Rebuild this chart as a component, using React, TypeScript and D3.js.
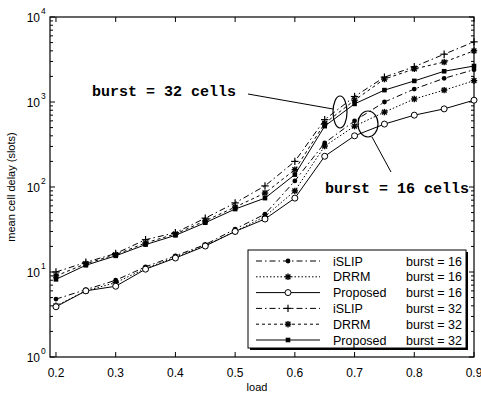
import React from "react";
import * as d3 from "d3";

const loads = [0.2, 0.25, 0.3, 0.35, 0.4, 0.45, 0.5, 0.55, 0.6, 0.65, 0.7, 0.75, 0.8, 0.85, 0.9];
const islip16 = [4.8, 6.2, 8, 11.5, 15.5, 21, 32, 48, 118, 330, 600, 1000, 1420, 1900, 2400];
const drrm16 = [4.0, 6.0, 7.5, 11, 15, 20.5, 30, 45, 90, 303, 520, 760, 1085, 1380, 1780];
const proposed16 = [3.9, 6.0, 6.8, 10.8, 14.6, 20.2, 30, 42, 74, 230, 400, 550, 700, 830, 1050];
const islip32 = [10, 13, 16.5, 24, 29, 43, 65, 103, 200, 620, 1160, 1960, 2600, 3650, 5100];
const drrm32 = [9, 12.5, 16, 22, 28, 40, 58, 85, 160, 560, 1050, 1860, 2450, 2950, 4000];
const proposed32 = [8.2, 12, 15.5, 21, 27, 38, 55, 74, 140, 520, 950, 1380, 1770, 2300, 2650];

const xTicks = [0.2, 0.3, 0.4, 0.5, 0.6, 0.7, 0.8, 0.9];
const xTickLabels = ["0.2", "0.3", "0.4", "0.5", "0.6", "0.7", "0.8", "0.9"];
const yExponents = [0, 1, 2, 3, 4];

const seriesNames = ["iSLIP", "DRRM", "Proposed", "iSLIP", "DRRM", "Proposed"];
const seriesBursts = ["burst = 16", "burst = 16", "burst = 16", "burst = 32", "burst = 32", "burst = 32"];
const seriesValues = [islip16, drrm16, proposed16, islip32, drrm32, proposed32];
const seriesDash = ["6,3,1.5,3", "1.5,2", "", "6,3,1.5,3", "3,3", ""];
const seriesMarker = ["dot", "asterisk", "circle", "plus", "asterisk", "square"];

const annotation32 = "burst = 32 cells";
const annotation16 = "burst = 16 cells";

const L = 50, R = 474, T = 17, B = 357;

function Marker({ kind, x, y }: { kind: string; x: number; y: number }) {
  const s = 3.2;
  if (kind === "dot") return <circle cx={x} cy={y} r={2.4} fill="#000" />;
  if (kind === "circle") return <circle cx={x} cy={y} r={3} fill="#fff" stroke="#000" strokeWidth={1} />;
  if (kind === "square") return <rect x={x - 2.3} y={y - 2.3} width={4.6} height={4.6} fill="#000" />;
  if (kind === "plus")
    return (
      <g stroke="#000" strokeWidth={1.2}>
        <line x1={x - s - 0.5} y1={y} x2={x + s + 0.5} y2={y} />
        <line x1={x} y1={y - s - 0.5} x2={x} y2={y + s + 0.5} />
      </g>
    );
  const d = s * 0.75;
  return (
    <g stroke="#000" strokeWidth={1.4}>
      <line x1={x - s} y1={y} x2={x + s} y2={y} />
      <line x1={x} y1={y - s} x2={x} y2={y + s} />
      <line x1={x - d} y1={y - d} x2={x + d} y2={y + d} />
      <line x1={x - d} y1={y + d} x2={x + d} y2={y - d} />
      <circle cx={x} cy={y} r={1.6} fill="#000" stroke="none" />
    </g>
  );
}

export default function App() {
  const x = d3.scaleLinear().domain([0.19, 0.9]).range([L, R]);
  const y = d3.scaleLog().domain([1, 10000]).range([B, T]);
  const line = d3
    .line<number>()
    .x((_, i) => x(loads[i]))
    .y((v) => y(v));

  const minor: number[] = [];
  for (let e = 0; e < 4; e++) for (let m = 2; m <= 9; m++) minor.push(m * Math.pow(10, e));

  const legX = 248, legY = 250, legW = 218, legH = 98, rowH = 15.8;

  return (
    <svg width={481} height={396} style={{ position: "absolute", left: 0, top: 0, background: "#fff" }}>
      <rect x={0} y={0} width={481} height={396} fill="#fff" />
      {/* frame */}
      <rect x={L} y={T} width={R - L} height={B - T} fill="none" stroke="#000" strokeWidth={1.2} />
      {/* x ticks */}
      {xTicks.map((t, i) => (
        <g key={"xt" + i}>
          <line x1={x(t)} y1={B} x2={x(t)} y2={B - 5} stroke="#000" />
          <line x1={x(t)} y1={T} x2={x(t)} y2={T + 5} stroke="#000" />
          <text x={x(t)} y={377} textAnchor="middle" fontFamily="Liberation Sans, Arial, sans-serif" fontSize={12}>
            {xTickLabels[i]}
          </text>
        </g>
      ))}
      {/* y ticks */}
      {yExponents.map((e) => (
        <g key={"ye" + e}>
          <line x1={L} y1={y(Math.pow(10, e))} x2={L + 5} y2={y(Math.pow(10, e))} stroke="#000" />
          <line x1={R} y1={y(Math.pow(10, e))} x2={R - 5} y2={y(Math.pow(10, e))} stroke="#000" />
          <text x={40} y={y(Math.pow(10, e)) + 5} textAnchor="end" fontFamily="Liberation Sans, Arial, sans-serif" fontSize={12}>
            10
          </text>
          <text x={41} y={y(Math.pow(10, e)) - 3} fontFamily="Liberation Sans, Arial, sans-serif" fontSize={8.5}>
            {e}
          </text>
        </g>
      ))}
      {minor.map((v, i) => (
        <g key={"mi" + i}>
          <line x1={L} y1={y(v)} x2={L + 3} y2={y(v)} stroke="#000" />
          <line x1={R} y1={y(v)} x2={R - 3} y2={y(v)} stroke="#000" />
        </g>
      ))}
      {/* axis labels */}
      <text x={257} y={391} textAnchor="middle" fontFamily="Liberation Sans, Arial, sans-serif" fontSize={11}>
        load
      </text>
      <text
        transform={`translate(15,${(T + B) / 2}) rotate(-90)`}
        textAnchor="middle"
        fontFamily="Liberation Sans, Arial, sans-serif"
        fontSize={11}
      >
        mean cell delay (slots)
      </text>
      {/* series */}
      {seriesValues.map((vals, si) => (
        <g key={"s" + si}>
          <path d={line(vals) || ""} fill="none" stroke="#000" strokeWidth={1} strokeDasharray={seriesDash[si] || undefined} />
          {vals.map((v, i) => (
            <Marker key={i} kind={seriesMarker[si]} x={x(loads[i])} y={y(v)} />
          ))}
        </g>
      ))}
      {/* annotations */}
      <text x={92} y={96} fontFamily="Liberation Mono, Courier New, monospace" fontSize={15} fontWeight="bold">
        {annotation32}
      </text>
      <line x1={248} y1={94} x2={333} y2={109} stroke="#000" strokeWidth={1} />
      <ellipse cx={340} cy={112} rx={7} ry={16} fill="none" stroke="#000" strokeWidth={1.2} />
      <ellipse cx={368} cy={124} rx={10} ry={13} fill="none" stroke="#000" strokeWidth={1.2} />
      <line x1={372} y1={137} x2={391} y2={172} stroke="#000" strokeWidth={1} />
      <text x={325} y={193} fontFamily="Liberation Mono, Courier New, monospace" fontSize={15} fontWeight="bold">
        {annotation16}
      </text>
      {/* legend */}
      <rect x={legX + 2} y={legY + 2} width={legW} height={legH} fill="#000" />
      <rect x={legX} y={legY} width={legW} height={legH} fill="#fff" stroke="#000" strokeWidth={1} />
      {seriesNames.map((n, i) => {
        const cy = legY + 11 + i * rowH;
        return (
          <g key={"lg" + i}>
            <line x1={256} y1={cy} x2={320} y2={cy} stroke="#000" strokeWidth={1} strokeDasharray={seriesDash[i] || undefined} />
            <Marker kind={seriesMarker[i]} x={288} y={cy} />
            <text x={333} y={cy + 4.5} fontFamily="Liberation Sans, Arial, sans-serif" fontSize={12.5}>
              {n}
            </text>
            <text x={462} y={cy + 4.5} textAnchor="end" fontFamily="Liberation Sans, Arial, sans-serif" fontSize={12.5}>
              {seriesBursts[i]}
            </text>
          </g>
        );
      })}
    </svg>
  );
}
